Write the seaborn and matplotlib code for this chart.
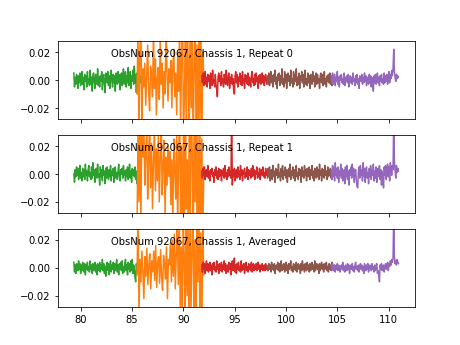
import numpy as np
import pandas as pd
import matplotlib
matplotlib.use("Agg")
import matplotlib.pyplot as plt
import seaborn as sns

# Band frequency ranges (GHz)
band_names = ["b1", "b2", "b3", "b4", "b5"]
band_start = [79.35, 85.5, 91.8, 98.2, 104.4]
band_end = [85.9, 92.0, 98.35, 104.8, 110.95]
band_colors = ["#2ca02c", "#ff7f0e", "#d62728", "#8c564b", "#9467bd"]

panel_titles = ["ObsNum 92067, Chassis 1, Repeat 0",
                "ObsNum 92067, Chassis 1, Repeat 1",
                "ObsNum 92067, Chassis 1, Averaged"]

# Spectra values in units of 1e-3
green_r0 = [5,-5,2,-3,4,1,-6,3,-2,5,-4,0,6,-3,2,-7,4,-1,3,-5,
            6,-2,1,-4,7,-3,2,-8,3,5,-2,-6,4,0,-3,8,-4,2,-5,3,
            -1,6,-7,2,4,-3,-9,5,1,-2,6,-4,3,-6,2,7,-1,-5,4,-2,
            3,-8,5,0,-3,6,-2,4,-7,1,5,-4,2,8,-3,-1,6,-5,3,-2,
            9,-4,2,6,-6,3,-1,7,-3,10,-2,4,-9,5,-1,8,-4,3,-2,1]
orange_r0 = [-10,35,-40,20,45,-35,8,
             -5,12,-18,3,25,-8,-22,10,4,-12,35,-6,15,-25,2,9,-14,30,
             -3,12,-20,6,-10,38,5,-15,8,-2,
             14,-20,10,22,-12,5,-25,18,-8,
             40,-35,15,50,-45,-10,30,-50,45,8,-38,55,-20,35,-55,12,
             48,-42,25,-50,40,-30,45,-48,20,2]
red_r0 = [3,-2,5,-4,1,6,-3,2,-5,4,
          -1,3,-6,5,2,-4,7,-2,0,-5,
          4,-3,-7,-12,2,5,-1,3,-4,6,
          -2,1,-5,4,2,-3,7,-1,-4,3,
          5,-6,2,-2,4,-3,1,-8,-10,3,
          6,-2,4,-5,2,-1,5,-3,3,-4,
          6,-2,1,-6,4,-1,3,-3,5,-4,
          2,0,-5,3,6,-2,1,-4,4,-3,
          5,-1,2,-6,3,-2,4,-3,1,5,
          -2,3,-4,2,4,-1,-3,3,1,2]
brown_r0 = [2,-3,5,-4,1,6,-2,3,-5,4,
            -1,7,-3,2,-6,4,0,5,-4,3,
            -2,8,-3,1,-5,6,-2,4,-6,2,
            5,-1,3,-4,7,-2,1,-5,6,-3,
            4,-1,8,-4,2,-3,5,-6,3,0,
            6,-2,4,-5,2,7,-3,1,-4,5,
            -2,3,-6,4,1,-3,6,-1,3,-5,
            2,5,-3,4,-2,1,-6,3,5,-2,
            4,-4,2,6,-3,1,-5,3,-1,4,
            -2,5,-3,2,-4,3,1,-2,2,0]
purple_r0 = [3,-2,5,-3,1,4,-4,2,-1,6,
             -3,2,-5,3,0,4,-2,1,-3,5,
             -4,2,-1,3,-2,4,-5,1,3,-2,
             2,-3,5,-1,1,-4,3,-2,4,-3,
             1,-6,3,2,-1,4,-3,2,-2,5,
             -1,3,-4,2,1,-3,4,-2,3,-5,
             2,-1,-8,3,-2,4,-3,1,5,-2,
             2,-4,3,-1,4,-2,1,-3,5,-2,
             3,-1,4,-3,2,6,-2,4,1,7,
             3,8,22,6,2,-1,4,1,3,2]

green_r1 = [0,-6,3,-2,5,-1,4,-4,2,6,
            -3,1,-5,4,-2,3,-4,7,-1,2,
            -5,3,6,-2,1,-4,5,-3,8,-1,
            3,-6,2,4,-3,7,-2,0,-8,5,
            -2,3,-5,6,-1,2,-7,4,-3,5,
            1,-4,3,-2,6,-5,2,-1,4,-6,
            3,5,-3,1,-4,2,7,-2,-5,3,
            0,4,-3,6,-1,2,-5,3,-2,5,
            -4,1,7,-3,2,-6,4,-1,3,-2,
            5,-4,2,-7,3,1,-5,4,-2,1]
orange_r1 = [-40,30,-20,45,-35,38,12,
             40,-8,15,32,-18,6,45,-10,22,-25,8,35,-12,18,-5,28,-20,10,
             40,-15,5,24,-30,12,-8,20,-2,16,
             -22,10,-35,25,4,-18,30,-40,12,
             45,-30,20,-50,38,-45,55,-25,10,-48,42,-35,50,18,-55,40,
             -20,48,-42,30,-50,35,-38,25,-45,5]
red_r1 = [2,-3,4,-1,5,-4,1,3,-2,6,
          -3,2,-5,3,0,4,-2,1,-6,3,
          -1,5,-3,2,-4,4,-2,1,3,-5,
          2,-1,4,-3,6,-2,1,-4,3,-2,
          5,-1,2,-3,45,-8,3,-2,4,-5,
          1,3,-3,5,-2,2,-4,6,-1,3,
          -5,2,0,4,-3,1,-2,5,-4,3,
          -1,2,-3,4,-2,6,-1,3,-4,2,
          0,5,-3,1,-2,4,-4,2,3,-1,
          5,-2,1,-3,4,-1,2,-2,3,1]
brown_r1 = [-3,4,-2,5,-5,1,3,-4,6,-2,
            2,-6,4,-1,3,-3,7,-2,1,-5,
            4,-2,6,-4,2,-1,5,-3,3,-6,
            1,4,-2,7,-4,2,-1,5,-3,3,
            -5,2,6,-2,1,-4,4,-1,3,-6,
            5,-2,2,-3,6,-1,3,-5,4,-2,
            1,5,-4,3,-1,6,-3,2,-5,4,
            0,-3,5,-2,3,-4,7,-1,2,-5,
            4,-2,3,-3,6,-1,2,-4,5,-2,
            3,-1,4,-3,2,-2,5,-1,3,0]
purple_r1 = [2,-4,6,-2,3,-5,8,-1,4,-3,
             5,-6,2,-1,7,-3,4,-5,1,3,
             -7,5,-2,6,-4,2,-8,3,-1,5,
             -3,7,-2,4,-6,1,3,-4,-9,-10,
             2,5,-3,6,-1,3,-5,8,-2,4,
             -6,2,5,-3,1,-7,4,-2,6,-4,
             3,-1,7,-5,2,-3,5,-6,1,4,
             -2,6,-4,3,-8,2,-3,-10,5,-1,
             6,-4,3,7,-2,5,-5,8,4,-1,
             6,3,40,9,2,-3,6,1,4,2]

green_avg = [4,-3,2,-4,3,0,-2,5,-1,3,
             -4,2,-2,4,1,-3,3,-5,2,-1,
             4,-2,1,-3,5,-1,2,-4,3,-2,
             0,4,-3,2,-5,3,1,-2,4,-3,
             2,-1,6,-2,3,-4,1,-6,2,4,
             -2,3,-5,1,5,-3,2,-1,4,-4,
             3,-2,1,6,-3,2,-5,3,-1,4,
             -2,5,-4,1,-3,3,6,-2,2,-5,
             4,-1,3,-3,5,-2,6,-4,2,-1,
             -7,-10,3,-3,4,2,5,-2,3,1]
orange_avg = [-5,40,-35,6,-10,12,-4,
              -22,8,-6,14,-12,2,10,-15,5,-3,12,-9,16,-14,4,8,-11,13,
              -6,-16,9,3,-8,15,-22,6,2,
              18,-10,20,-6,24,-15,10,30,-12,
              35,-28,15,-45,40,8,-38,50,-20,28,-50,45,-30,12,48,-42,
              20,-55,38,-10,45,-35,25,-48,30,-5]
red_avg = [2,-3,4,-1,3,-4,1,5,-2,3,
           -3,1,4,-2,2,-5,3,-1,4,-2,
           1,-3,5,-1,2,-4,3,-2,1,4,
           -3,2,-1,5,-2,3,-4,1,2,-3,
           4,-1,3,-5,2,5,-2,3,7,-3,
           2,-4,3,-1,4,-2,1,-3,5,-2,
           2,-1,3,-4,2,4,-2,1,-3,3,
           -1,2,-2,4,-3,1,3,-2,2,-1,
           3,-2,1,4,-1,2,-3,2,-1,3,
           -2,1,2,-2,3,-1,1,-2,2,0]
brown_avg = [1,-2,3,-1,2,-3,4,-1,2,-2,
             3,-4,1,2,-1,4,-2,3,-3,1,
             5,-2,2,-1,3,-3,1,4,-2,2,
             -4,3,-1,2,5,-2,1,-3,3,-1,
             2,-2,4,-3,1,3,-1,2,-4,3,
             -2,5,-1,2,-3,3,1,-2,4,-1,
             2,-3,3,-2,1,4,-1,2,-3,5,
             -2,1,3,-1,2,-4,3,-2,1,4,
             -1,2,-3,3,-1,2,4,-2,1,-3,
             3,-1,2,-2,4,-1,1,-2,2,1]
purple_avg = [2,-1,3,-2,1,2,-3,1,-1,3,
              -2,2,0,-3,1,2,-1,4,-2,1,
              -3,2,1,-2,3,-1,2,-4,1,2,
              -1,3,-2,1,-3,2,4,-1,1,-2,
              2,-3,1,3,-1,2,-2,1,-4,3,
              1,-2,2,-1,3,-3,1,2,-1,-2,
              3,-1,1,-3,2,-2,1,3,-4,-2,
              -5,-10,2,-1,3,-2,1,2,-3,1,
              3,-1,2,4,-2,3,1,5,2,6,
              4,7,40,8,3,5,2,6,4,3]

panels = [
    [green_r0, orange_r0, red_r0, brown_r0, purple_r0],
    [green_r1, orange_r1, red_r1, brown_r1, purple_r1],
    [green_avg, orange_avg, red_avg, brown_avg, purple_avg],
]

fig, axes = plt.subplots(3, 1, sharex=True, figsize=(6.4, 4.8), dpi=72)

for ax, title, series in zip(axes, panel_titles, panels):
    rows = []
    for name, s0, s1, vals in zip(band_names, band_start, band_end, series):
        freqs = np.linspace(s0, s1, len(vals))
        for f, v in zip(freqs, vals):
            rows.append({"freq": f, "value": v * 1e-3, "band": name})
    df = pd.DataFrame(rows)
    sns.lineplot(data=df, x="freq", y="value", hue="band", hue_order=band_names,
                 palette=band_colors, legend=False, ax=ax, sort=False,
                 estimator=None, linewidth=1.5)
    ax.set_ylim(-0.028, 0.028)
    ax.set_yticks([-0.02, 0.0, 0.02])
    ax.set_xlabel("")
    ax.set_ylabel("")
    ax.text(0.15, 0.8, title, transform=ax.transAxes, fontsize=10)

fig.savefig("out.png", dpi=72)
